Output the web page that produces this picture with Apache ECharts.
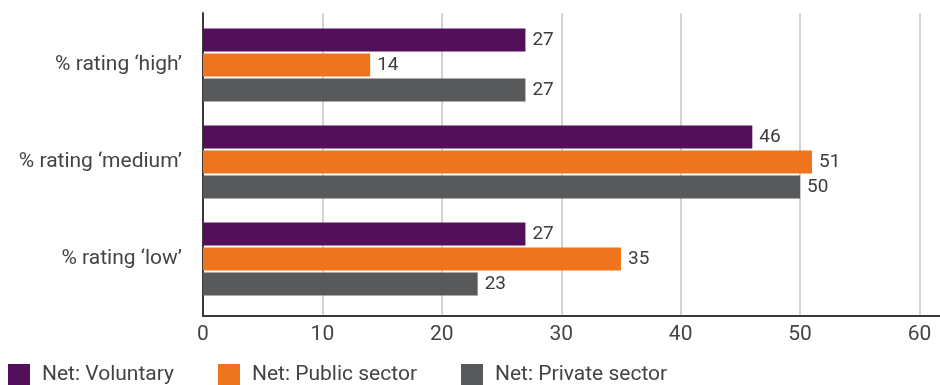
<!DOCTYPE html>
<html>
<head>
<meta charset="utf-8">
<script src="https://cdn.jsdelivr.net/npm/echarts@6/dist/echarts.min.js"></script>
<style>
  html, body { margin: 0; padding: 0; background: #ffffff; }
  #chart { width: 940px; height: 385px; }
</style>
</head>
<body>
<div id="chart"></div>
<script>
// Survey ratings by sector
const categories = ['% rating \u2018high\u2019', '% rating \u2018medium\u2019', '% rating \u2018low\u2019'];
const seriesNames = ['Net: Voluntary', 'Net: Public sector', 'Net: Private sector'];
const voluntary = [27, 46, 27];
const publicSector = [14, 51, 35];
const privateSector = [27, 50, 23];
const axisMin = 0;
const axisMax = 60;
const axisStep = 10;

const colors = ['#530F59', '#EE741D', '#58595B'];
const FONT = 'Roboto';
const TEXT = '#444444';

const PLOT_LEFT = 203;
const PLOT_WIDTH = 716.5;

const chart = echarts.init(document.getElementById('chart'), null, { renderer: 'canvas' });

function barSeries(name, data, color) {
  return {
    name: name,
    type: 'bar',
    xAxisIndex: 2,
    yAxisIndex: 2,
    data: data,
    barWidth: 23,
    barGap: '9%',
    itemStyle: { color: color },
    label: {
      show: true,
      position: 'right',
      distance: 7,
      color: '#3d3d3d',
      fontFamily: FONT,
      fontSize: 19
    },
    emphasis: { disabled: true },
    animation: false
  };
}

chart.setOption({
  animation: false,
  color: colors,
  legend: {
    data: seriesNames,
    left: 8,
    top: 364,
    padding: 0,
    itemWidth: 22,
    itemHeight: 22,
    itemGap: 44,
    icon: 'rect',
    textStyle: {
      fontFamily: FONT,
      fontSize: 21,
      color: TEXT,
      padding: [0, 0, 0, 7]
    }
  },
  grid: [
    // frame: axis lines running to the right edge
    { left: PLOT_LEFT, right: 0, top: 13, height: 303 },
    // value gridlines and tick labels
    { left: PLOT_LEFT, width: PLOT_WIDTH, top: 13, height: 303 },
    // bars
    { left: PLOT_LEFT, width: PLOT_WIDTH, top: 16.5, height: 291 }
  ],
  xAxis: [
    {
      gridIndex: 0, type: 'value', min: 0, max: 1,
      axisLine: { show: true, lineStyle: { color: '#3a3a3a', width: 2 } },
      axisTick: { show: false }, axisLabel: { show: false }, splitLine: { show: false }
    },
    {
      gridIndex: 1, type: 'value', min: axisMin, max: axisMax, interval: axisStep,
      axisLine: { show: false }, axisTick: { show: false },
      axisLabel: { margin: 8, fontFamily: FONT, fontSize: 21, color: TEXT },
      splitLine: { show: true, lineStyle: { color: '#d3d3d3', width: 2 } }
    },
    {
      gridIndex: 2, type: 'value', min: axisMin, max: axisMax, show: false
    }
  ],
  yAxis: [
    {
      gridIndex: 0, type: 'value', min: 0, max: 1,
      axisLine: { show: true, lineStyle: { color: '#3a3a3a', width: 2 } },
      axisTick: { show: false }, axisLabel: { show: false }, splitLine: { show: false }
    },
    {
      gridIndex: 1, type: 'category', data: categories, show: false
    },
    {
      gridIndex: 2, type: 'category', data: categories, inverse: true,
      axisLine: { show: false }, axisTick: { show: false },
      axisLabel: { margin: 21, fontFamily: FONT, fontSize: 21, color: TEXT }
    }
  ],
  series: [
    barSeries(seriesNames[0], voluntary, colors[0]),
    barSeries(seriesNames[1], publicSector, colors[1]),
    barSeries(seriesNames[2], privateSector, colors[2])
  ]
});
</script>
</body>
</html>
